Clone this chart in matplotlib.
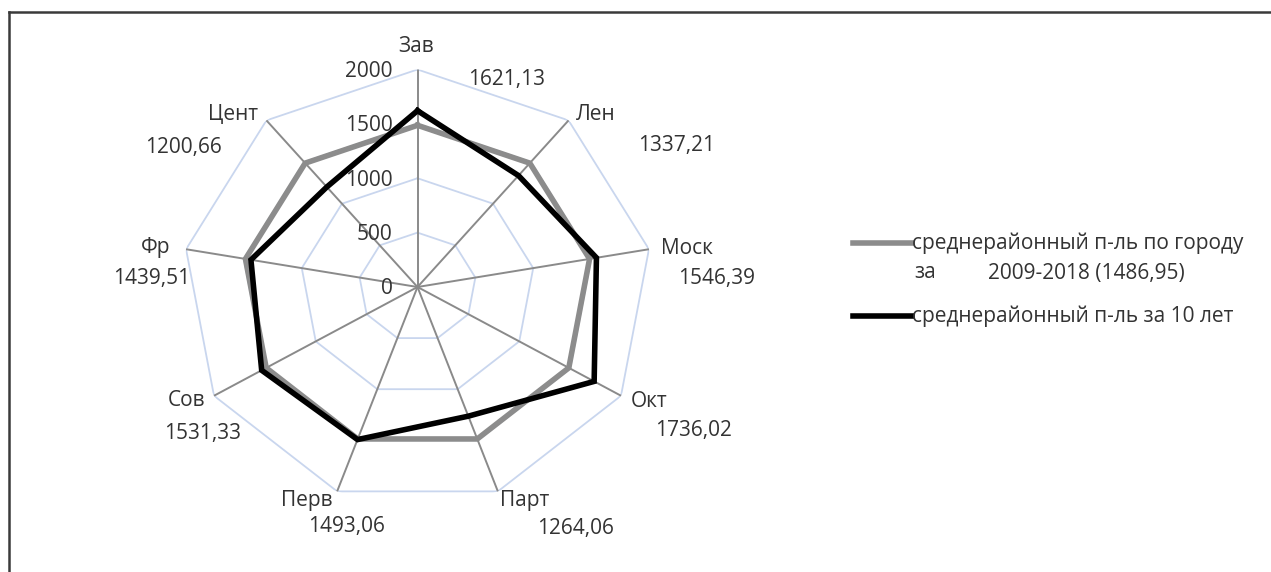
import numpy as np
import matplotlib
matplotlib.use("Agg")
import matplotlib.pyplot as plt
from matplotlib.lines import Line2D

plt.rcParams['font.family'] = ['Open Sans', 'DejaVu Sans']

# Districts and their ten-year average values
districts = ["Зав", "Лен", "Моск", "Окт", "Парт", "Перв", "Сов", "Фр", "Цент"]
district_avg = [1621.13, 1337.21, 1546.39, 1736.02, 1264.06, 1493.06, 1531.33, 1439.51, 1200.66]
city_avg = 1486.95
series_names = ["среднерайонный п-ль по городу", "за", "2009-2018 (1486,95)",
                "среднерайонный п-ль за 10 лет"]
r_ticks = [0, 500, 1000, 1500, 2000]

# Label offsets (pixels) from the outer end of each spoke
name_offsets = [(-1, 23), (27, 6), (38, 1), (28, -6), (27, -9), (-30, -9), (-27, -5), (-30, 2), (-33, 6)]
value_offsets = [(89, -10), (108, -25), (68, -29), (72, -35), (78, -37), (9, -35), (-11, -38), (-34, -29), (-83, -27)]

W, H = 1271, 572
fig = plt.figure(figsize=(W / 100, H / 100), dpi=100)

cx, cy = 417.5, 287.0   # chart centre, pixels from top-left
rx, ry = 235.0, 217.5   # outer radius horizontally / vertically
ax = fig.add_axes([(cx - rx) / W, 1 - (cy + ry) / H, 2 * rx / W, 2 * ry / H], projection='polar')
ax.set_aspect('auto')
ax.set_theta_zero_location('N')
ax.set_theta_direction(-1)
ax.set_ylim(0, r_ticks[-1])
ax.grid(False)
ax.set_xticks([])
ax.set_yticks([])
ax.spines['polar'].set_visible(False)
ax.patch.set_alpha(0)

n = len(districts)
theta = np.arange(n) * 2 * np.pi / n
theta_c = np.append(theta, theta[0])

text_color = '#333333'
fs = 15

# Nonagonal grid rings
for r in r_ticks[1:]:
    ax.plot(theta_c, [r] * (n + 1), color='#c9d6ee', lw=1.3, zorder=1)
# Spokes
for t in theta:
    ax.plot([t, t], [0, r_ticks[-1]], color='#8a8a8a', lw=1.4, zorder=2)

# Series
ax.plot(theta_c, [city_avg] * (n + 1), color='#8c8c8c', lw=4.0, zorder=3,
        solid_joinstyle='miter')
vals = list(district_avg) + [district_avg[0]]
ax.plot(theta_c, vals, color='#000000', lw=4.0, zorder=4, solid_joinstyle='miter')

# Radial tick labels along the top spoke
for r in r_ticks:
    ax.annotate(str(r), xy=(0, r), xytext=(-25, -2), textcoords='offset pixels',
                ha='right', va='center', fontsize=fs, color=text_color)

# Category names and values
for t, name, v, no, vo in zip(theta, districts, district_avg, name_offsets, value_offsets):
    ax.annotate(name, xy=(t, r_ticks[-1]), xytext=no, textcoords='offset pixels',
                ha='center', va='center', fontsize=fs, color=text_color, annotation_clip=False)
    ax.annotate(f"{v:.2f}".replace('.', ','), xy=(t, r_ticks[-1]), xytext=vo,
                textcoords='offset pixels', ha='center', va='center', fontsize=fs,
                color=text_color, annotation_clip=False)


def fx(x):
    return x / W


def fy(y):
    return 1 - y / H


# Legend
fig.add_artist(Line2D([fx(853), fx(912)], [fy(243), fy(243)], color='#8c8c8c', lw=4.0))
fig.add_artist(Line2D([fx(853), fx(912)], [fy(316), fy(316)], color='#000000', lw=4.0))
fig.text(fx(912), fy(243), series_names[0], ha='left', va='center', fontsize=fs, color=text_color)
fig.text(fx(914), fy(273), series_names[1], ha='left', va='center', fontsize=fs, color=text_color)
fig.text(fx(988), fy(273), series_names[2], ha='left', va='center', fontsize=fs, color=text_color)
fig.text(fx(912), fy(316), series_names[3], ha='left', va='center', fontsize=fs, color=text_color)

# Chart frame (top and left edges)
fig.add_artist(Line2D([fx(9), fx(W)], [fy(12), fy(12)], color='#3a3a3a', lw=1.8))
fig.add_artist(Line2D([fx(9), fx(9)], [fy(12), fy(H)], color='#3a3a3a', lw=1.8))

fig.savefig('out.png', dpi=100, facecolor='white')
